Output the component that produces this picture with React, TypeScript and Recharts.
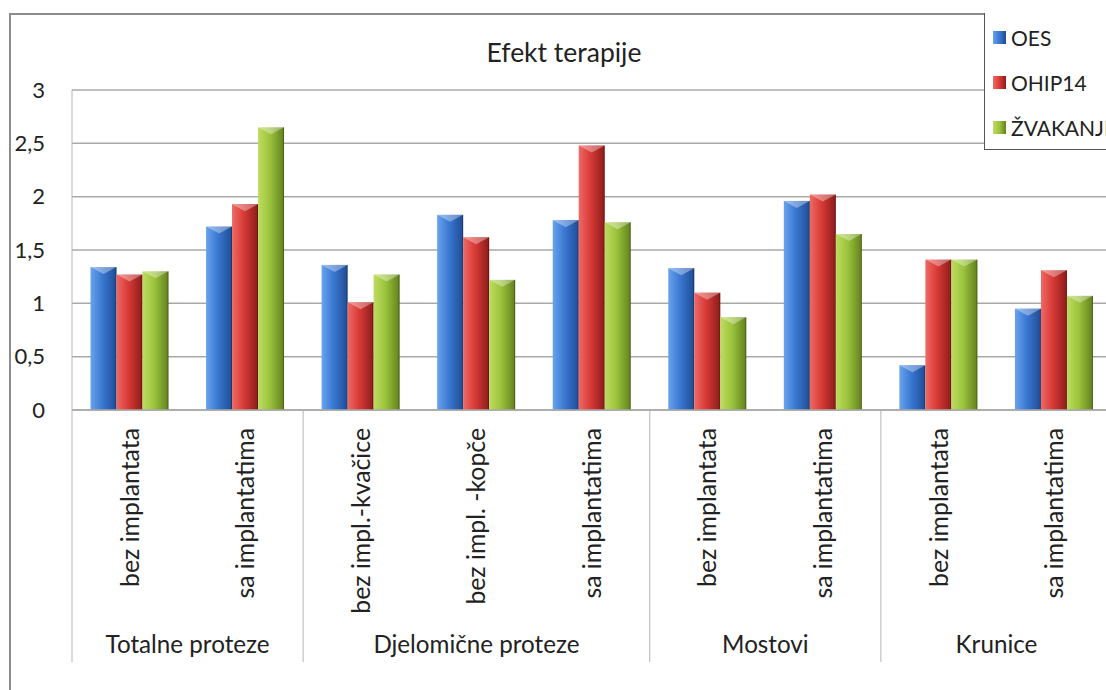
import React from 'react';
import { BarChart, Bar, XAxis, YAxis, CartesianGrid, Legend } from 'recharts';

const CATEGORIES = [
  'bez implantata',
  'sa implantatima',
  'bez impl.-kvačice',
  'bez impl. -kopče',
  'sa implantatima',
  'bez implantata',
  'sa implantatima',
  'bez implantata',
  'sa implantatima',
];
const GROUPS = [
  'Totalne proteze',
  'Totalne proteze',
  'Djelomične proteze',
  'Djelomične proteze',
  'Djelomične proteze',
  'Mostovi',
  'Mostovi',
  'Krunice',
  'Krunice',
];
const OES = [1.34, 1.72, 1.36, 1.83, 1.78, 1.33, 1.96, 0.42, 0.95];
const OHIP14 = [1.27, 1.93, 1.01, 1.62, 2.48, 1.1, 2.02, 1.41, 1.31];
const ZVAKANJE = [1.3, 2.65, 1.27, 1.22, 1.76, 0.87, 1.65, 1.41, 1.07];
const Y_TICKS = [0, 0.5, 1, 1.5, 2, 2.5, 3];

const SERIES = [
  { key: 'OES', name: 'OES', light: '#6aa3ec', base: '#3a78d2', dark: '#1f4c94' },
  { key: 'OHIP14', name: 'OHIP14', light: '#ee6a66', base: '#d83a36', dark: '#8c1c1a' },
  { key: 'ZVAKANJE', name: 'ŽVAKANJE', light: '#bfdc62', base: '#9cc43c', dark: '#62801e' },
];

const data = CATEGORIES.map((c, i) => ({
  sub: c,
  group: GROUPS[i],
  OES: OES[i],
  OHIP14: OHIP14[i],
  ZVAKANJE: ZVAKANJE[i],
}));

const FONT = 'Lato, "Noto Sans", sans-serif';
const CHART_W = 1120;
const CHART_H = 700;
const MARGIN = { top: 90, right: 8, bottom: 0, left: 0 };
const Y_W = 72;
const CAT_W = (CHART_W - MARGIN.left - MARGIN.right - Y_W) / CATEGORIES.length;
const DIVIDER_BOTTOM = 662;

const BevelBar = (props: any) => {
  const { x, y, width, height, fill } = props;
  if (!height || height <= 0) return null;
  const cap = Math.min(7, height / 2);
  return (
    <g>
      <rect x={x} y={y} width={width} height={height} fill={fill} />
      <polygon
        points={`${x},${y} ${x + width},${y} ${x + width / 2},${y + cap}`}
        fill="#ffffff"
        fillOpacity={0.35}
      />
      <line x1={x + width - 0.5} y1={y} x2={x + width - 0.5} y2={y + height} stroke="#000" strokeOpacity={0.25} />
    </g>
  );
};

const CategoryTick = (props: any) => {
  const { x, y, payload } = props;
  const i = payload.index;
  const half = payload.offset || CAT_W / 2;
  const first = i === 0 || GROUPS[i - 1] !== GROUPS[i];
  const last = i === GROUPS.length - 1;
  let size = 0;
  if (first) {
    while (GROUPS[i + size] === GROUPS[i]) size++;
  }
  return (
    <g>
      <text
        transform={`translate(${x},${y + 18}) rotate(-90)`}
        textAnchor="end"
        dy="0.36em"
        fontFamily={FONT}
        fontSize={24.8}
        fill="#222"
      >
        {payload.value}
      </text>
      {first && (
        <>
          <line x1={x - half} y1={y} x2={x - half} y2={DIVIDER_BOTTOM} stroke="#b5b5b5" />
          <text
            x={x - half + size * half}
            y={645}
            dy="0.35em"
            textAnchor="middle"
            fontFamily={FONT}
            fontSize={24.2}
            fill="#222"
          >
            {GROUPS[i]}
          </text>
        </>
      )}
      {last && <line x1={x + half} y1={y} x2={x + half} y2={DIVIDER_BOTTOM} stroke="#b5b5b5" />}
    </g>
  );
};

const LegendBox = () => (
  <div
    style={{
      width: 200,
      height: 137,
      borderLeft: '1.5px solid #555',
      borderBottom: '1.5px solid #555',
      background: '#fff',
      boxSizing: 'border-box',
      paddingTop: 2,
      fontFamily: FONT,
      fontSize: 21,
      color: '#222',
    }}
  >
    {SERIES.map((s) => (
      <div key={s.key} style={{ display: 'flex', alignItems: 'center', height: 45 }}>
        <span
          style={{
            display: 'inline-block',
            width: 13,
            height: 13,
            marginLeft: 8,
            marginRight: 5,
            background: `linear-gradient(90deg, ${s.light}, ${s.base} 50%, ${s.dark})`,
          }}
        />
        <span style={{ whiteSpace: 'nowrap' }}>{s.name}</span>
      </div>
    ))}
  </div>
);

export default function App() {
  return (
    <div
      style={{
        position: 'fixed',
        left: 0,
        top: 0,
        width: 1106,
        height: 690,
        overflow: 'hidden',
        background: '#fff',
      }}
    >
      <div
        style={{
          position: 'absolute',
          left: 9,
          top: 13,
          width: 1200,
          height: 800,
          borderLeft: '2px solid #8c8c8c',
          borderTop: '2px solid #8c8c8c',
        }}
      />
      <div
        style={{
          position: 'absolute',
          left: 0,
          top: 0,
          width: CHART_W,
          height: CHART_H,
        }}
      >
        <BarChart
          width={CHART_W}
          height={CHART_H}
          data={data}
          margin={MARGIN}
          barCategoryGap="16%"
          barGap={0}
        >
          <defs>
            {SERIES.map((s) => (
              <linearGradient key={s.key} id={`grad-${s.key}`} x1="0" y1="0" x2="1" y2="0">
                <stop offset="0%" stopColor={s.light} />
                <stop offset="45%" stopColor={s.base} />
                <stop offset="100%" stopColor={s.dark} />
              </linearGradient>
            ))}
          </defs>
          <CartesianGrid horizontal vertical={false} stroke="#a9a9a9" strokeWidth={1.5} />
          <XAxis
            dataKey="sub"
            interval={0}
            height={CHART_H - 410}
            tick={<CategoryTick />}
            tickLine={false}
            tickSize={0}
            tickMargin={0}
            axisLine={{ stroke: '#a9a9a9', strokeWidth: 1.5 }}
          />
          <YAxis
            domain={[0, 3]}
            ticks={Y_TICKS}
            width={Y_W}
            tickLine={false}
            tickSize={0}
            tickMargin={27}
            axisLine={{ stroke: '#b5b5b5' }}
            tick={{ fontFamily: FONT, fontSize: 22, fill: '#222' }}
            tickFormatter={(v: number) => String(v).replace('.', ',')}
          />
          <Legend
            layout="vertical"
            align="center"
            verticalAlign="middle"
            wrapperStyle={{ left: 984, top: 13, width: 200, height: 137 }}
            content={<LegendBox />}
          />
          {SERIES.map((s) => (
            <Bar
              key={s.key}
              dataKey={s.key}
              name={s.name}
              fill={`url(#grad-${s.key})`}
              shape={<BevelBar />}
              isAnimationActive={false}
            />
          ))}
        </BarChart>
      </div>
      <div
        style={{
          position: 'absolute',
          left: 0,
          width: 1128,
          top: 36,
          textAlign: 'center',
          fontFamily: FONT,
          fontSize: 26.5,
          color: '#222',
          lineHeight: '32px',
        }}
      >
        Efekt terapije
      </div>
    </div>
  );
}
